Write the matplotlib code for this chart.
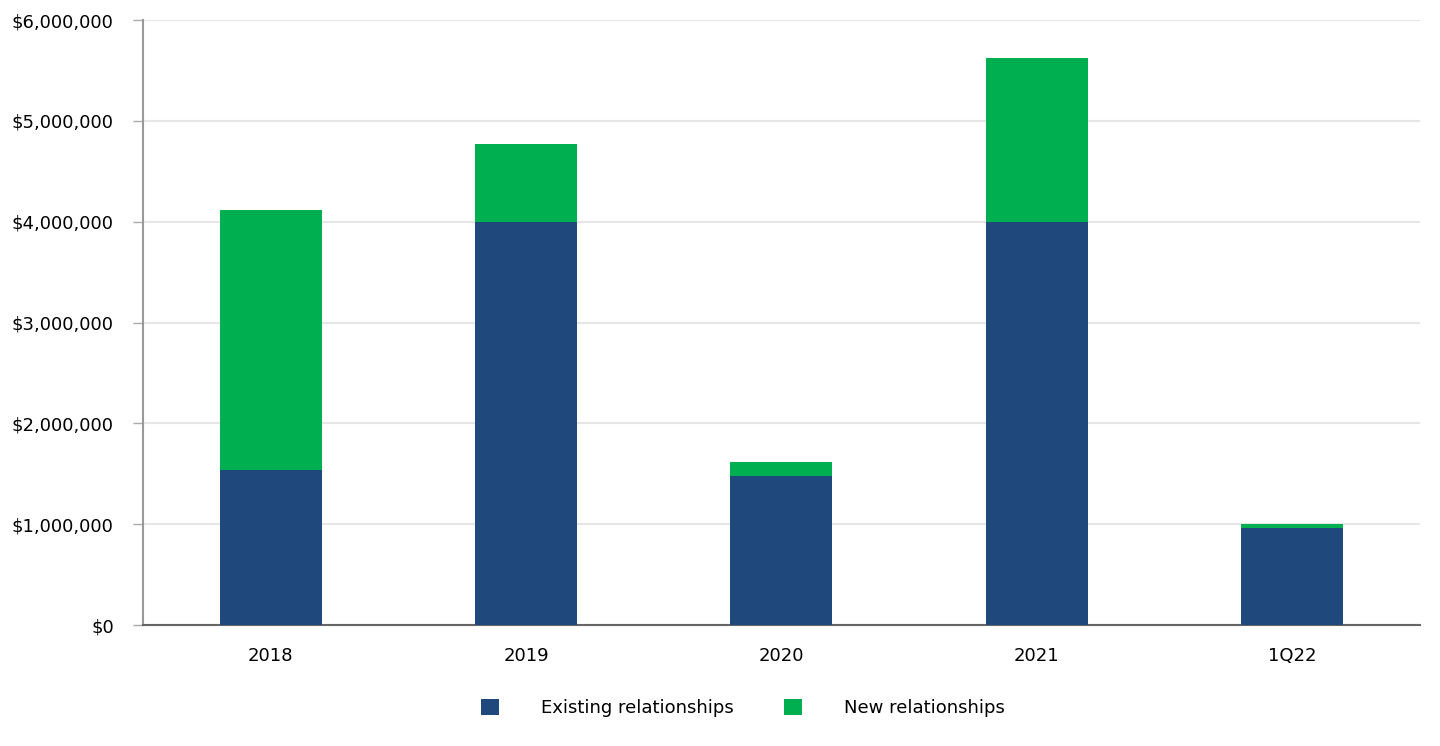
import numpy as np
import matplotlib.pyplot as plt
from matplotlib.ticker import FuncFormatter

# data
categories = ['2018', '2019', '2020', '2021', '1Q22']
existing = [1540000, 4000000, 1480000, 4000000, 960000]
new = [2580000, 770000, 140000, 1620000, 42000]

navy = '#1f497d'
green = '#00b050'

fig, ax = plt.subplots(figsize=(14.4, 7.46), dpi=100)
fig.subplots_adjust(left=0.0993, right=0.986, top=0.973, bottom=0.162)

x = np.arange(len(categories))
ax.bar(x, existing, width=0.4, color=navy, label='Existing relationships', zorder=3)
ax.bar(x, new, width=0.4, bottom=existing, color=green, label='New relationships', zorder=3)

ax.set_xlim(-0.5, len(categories) - 0.5)
ax.set_ylim(0, 6000000)
ax.set_yticks(np.arange(0, 6000001, 1000000))
ax.yaxis.set_major_formatter(FuncFormatter(lambda v, p: '${:,.0f}'.format(v)))
ax.set_xticks(x)
ax.set_xticklabels(categories)

ax.grid(axis='y', color='#e6e6e6', linewidth=1.5, zorder=0)
for s in ['top', 'right']:
    ax.spines[s].set_visible(False)
ax.spines['left'].set_color('#999999')
ax.spines['left'].set_linewidth(1.5)
ax.spines['bottom'].set_color('#666666')
ax.spines['bottom'].set_linewidth(1.5)
ax.tick_params(axis='y', length=7, color='#aaaaaa', width=1, labelsize=13, pad=14)
ax.tick_params(axis='x', length=0, labelsize=13, pad=16)

ax.legend(loc='upper center', bbox_to_anchor=(0.47, -0.095), ncol=2, frameon=False,
          fontsize=13, handlelength=1, handleheight=1, handletextpad=2.3,
          columnspacing=2.8)

fig.savefig('out.png', dpi=100)
